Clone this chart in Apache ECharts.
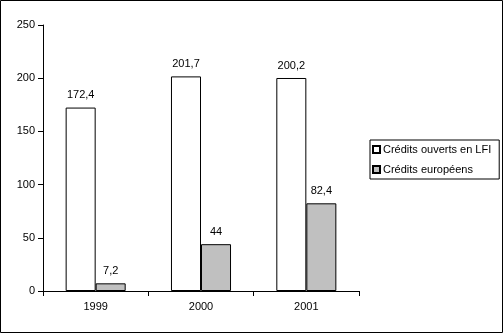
<!DOCTYPE html>
<html><head><meta charset="utf-8">
<script src="https://cdn.jsdelivr.net/npm/echarts@6/dist/echarts.min.js"></script>
<style>html,body{margin:0;padding:0;background:#fff}#c{width:503px;height:333px}</style>
</head><body><div id="c"></div>
<script>
const categories = ['1999', '2000', '2001'];
const seriesNames = ['Crédits ouverts en LFI', 'Crédits européens'];
const creditsLFI = [172.4, 201.7, 200.2];
const creditsEuropeens = [7.2, 44, 82.4];
const yTicks = [0, 50, 100, 150, 200, 250];

const font = 'Liberation Sans, Arial, sans-serif';
const fmt = p => String(p.value).replace('.', ',');
const chart = echarts.init(document.getElementById('c'), null, {renderer: 'canvas'});
chart.setOption({
  animation: false,
  backgroundColor: '#fff',
  textStyle: {fontFamily: font, color: '#000'},
  graphic: [{type: 'rect', shape: {x: 0.5, y: 0.5, width: 502, height: 332}, style: {fill: 'none', stroke: '#000', lineWidth: 1}, silent: true}],
  grid: {left: 43, top: 25, right: 144, bottom: 42},
  legend: {
    orient: 'vertical', left: 370, top: 140,
    data: seriesNames,
    icon: 'rect', itemWidth: 7, itemHeight: 7, itemGap: 9,
    padding: [4, 8, 4, 2],
    borderColor: '#000', borderWidth: 1,
    textStyle: {fontFamily: font, fontSize: 11, color: '#000', padding: [0, 0, 0, -2]}
  },
  xAxis: {
    type: 'category', data: categories,
    axisLine: {lineStyle: {color: '#000', width: 1}},
    axisTick: {show: true, length: 5, inside: false, lineStyle: {color: '#000'}},
    axisLabel: {fontFamily: font, fontSize: 11, color: '#000', margin: 10}
  },
  yAxis: {
    type: 'value', min: yTicks[0], max: yTicks[yTicks.length - 1], interval: 50,
    axisLine: {show: true, lineStyle: {color: '#000', width: 1}},
    axisTick: {show: true, length: 5, lineStyle: {color: '#000'}},
    splitLine: {show: false},
    axisLabel: {fontFamily: font, fontSize: 11, color: '#000', margin: 8}
  },
  series: [
    {name: seriesNames[0], type: 'bar', data: creditsLFI, barGap: '0%', barCategoryGap: '43%',
     itemStyle: {color: '#fff', borderColor: '#000', borderWidth: 1},
     label: {show: true, position: 'top', distance: 7, formatter: fmt, fontFamily: font, fontSize: 11, color: '#000'}},
    {name: seriesNames[1], type: 'bar', data: creditsEuropeens,
     itemStyle: {color: '#c0c0c0', borderColor: '#000', borderWidth: 1},
     label: {show: true, position: 'top', distance: 7, formatter: fmt, fontFamily: font, fontSize: 11, color: '#000'}}
  ]
});
</script></body></html>
